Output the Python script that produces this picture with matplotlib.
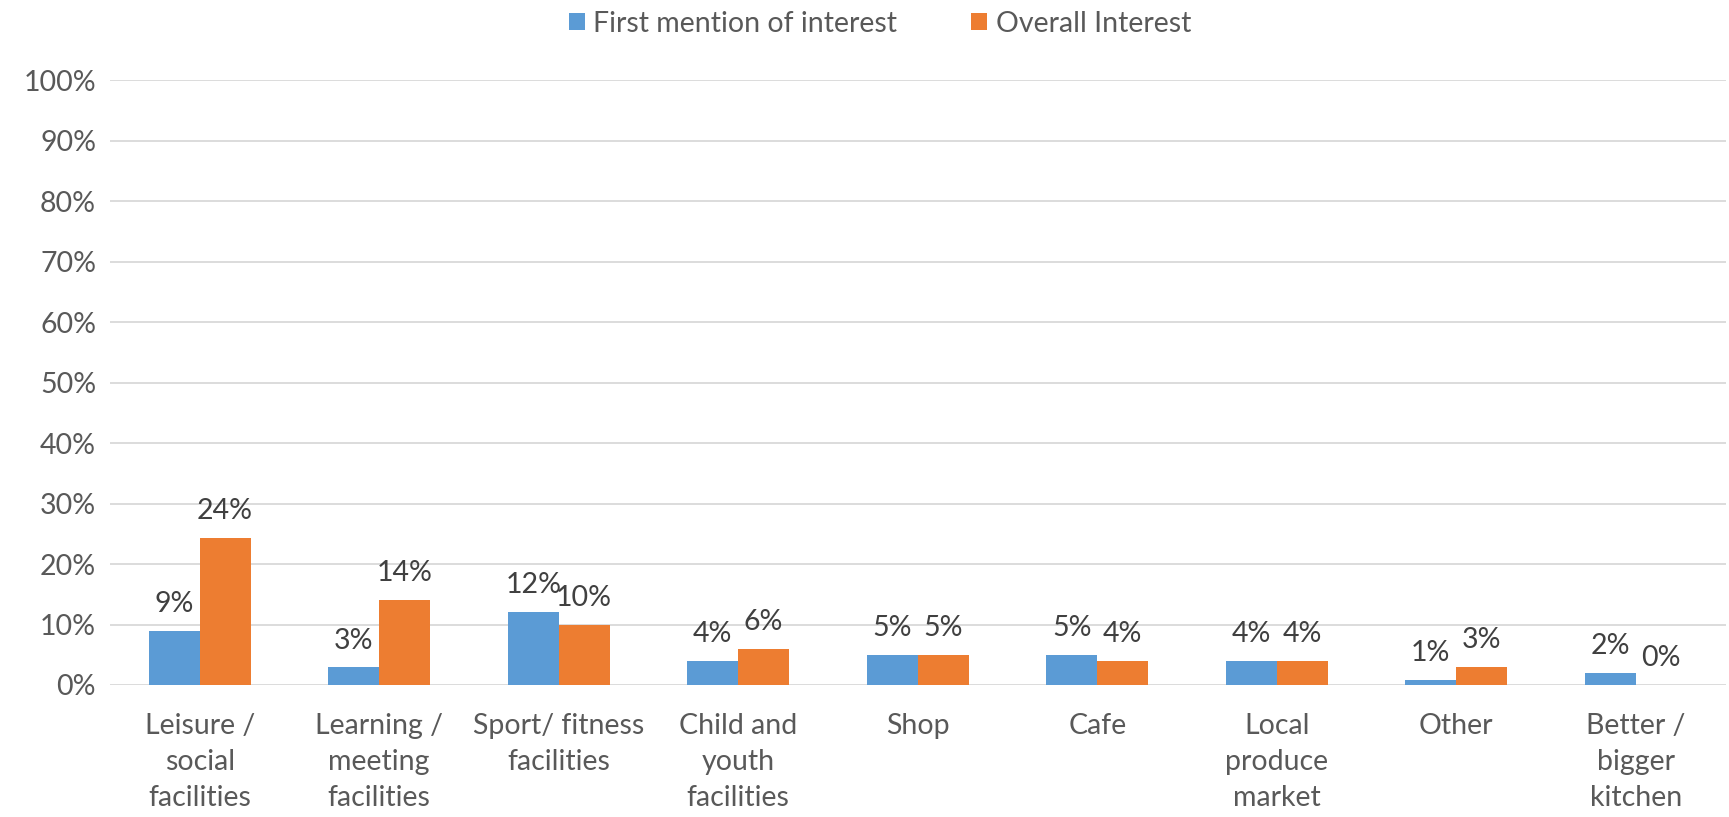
import numpy as np
from matplotlib import pyplot as plt
from matplotlib.ticker import PercentFormatter

# dados
categorias = ["Leisure /\nsocial\nfacilities", "Learning /\nmeeting\nfacilities",
              "Sport/ fitness\nfacilities", "Child and\nyouth\nfacilities", "Shop",
              "Cafe", "Local\nproduce\nmarket", "Other", "Better /\nbigger\nkitchen"]
primeira = [9.0, 2.9, 12.1, 4.0, 5.0, 5.0, 4.0, 0.9, 2.0]
geral = [24.3, 14.1, 10.0, 6.0, 5.0, 4.0, 4.0, 3.0, 0.0]
series = ["First mention of interest", "Overall Interest"]

AZUL = "#5B9BD5"
LARANJA = "#ED7D31"

plt.rcParams['font.family'] = ['Lato', 'DejaVu Sans']

fig = plt.figure(figsize=(17.29, 8.17), dpi=100)
ax = fig.add_axes([0.0636, 0.1616, 0.9344, 0.74])

x = np.arange(len(categorias))
w = 0.283
b1 = ax.bar(x - w/2, primeira, w, color=AZUL, label=series[0], zorder=3)
b2 = ax.bar(x + w/2, geral, w, color=LARANJA, label=series[1], zorder=3)

for barras in (b1, b2):
    ax.bar_label(barras, labels=[f"{v:.0f}%" for v in barras.datavalues],
                 padding=10, fontsize=20.5, color="#404040")

ax.set_ylim(0, 100)
ax.set_xlim(-0.5, len(categorias) - 0.5)
ax.set_yticks(np.arange(0, 101, 10))
ax.yaxis.set_major_formatter(PercentFormatter(decimals=0))
ax.set_xticks(x)
ax.set_xticklabels(categorias, linespacing=1.48)
ax.tick_params(axis="both", length=0, labelsize=20.5, labelcolor="#595959")
ax.tick_params(axis="x", pad=20)
ax.tick_params(axis="y", pad=10)
ax.grid(axis="y", color="#D9D9D9", linewidth=1.3, zorder=0)
for s in ax.spines.values():
    s.set_visible(False)

fig.legend(loc="upper center", bbox_to_anchor=(0.509, 1.018), ncol=2, frameon=False,
           fontsize=20.5, handlelength=0.55, handleheight=0.55, handletextpad=0.3,
           columnspacing=2.6, labelcolor="#595959")

fig.savefig("out.png", dpi=100)
